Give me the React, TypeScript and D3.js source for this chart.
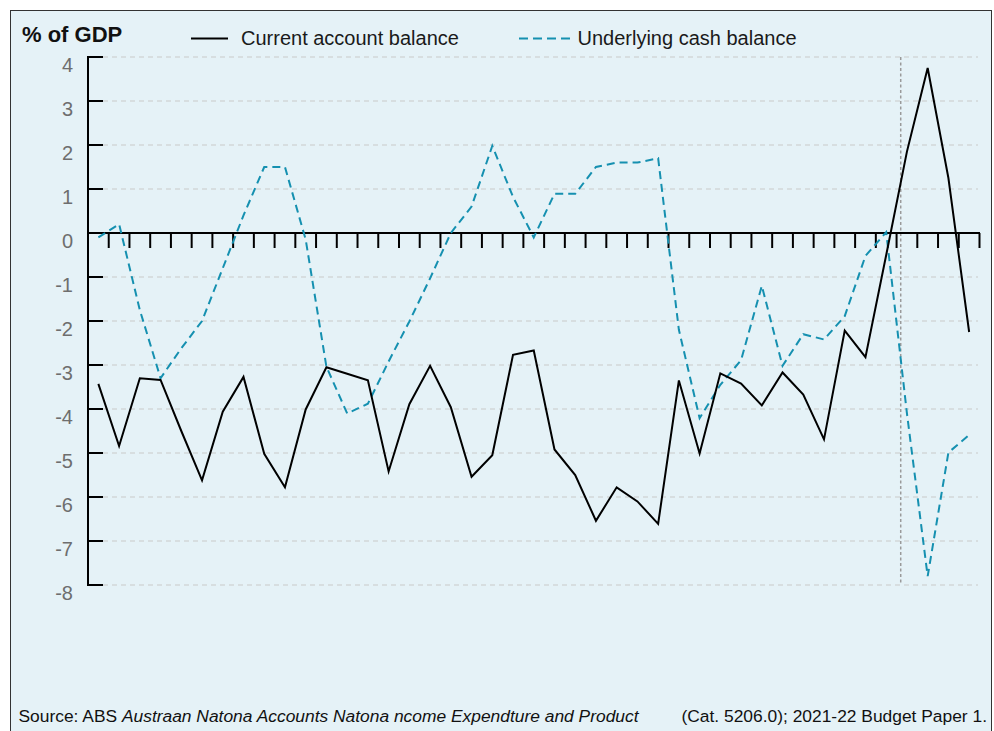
import React from "react";
import * as d3 from "d3";

const years: string[] = [
  "1979-80","1980-81","1981-82","1982-83","1983-84","1984-85","1985-86","1986-87","1987-88","1988-89",
  "1989-90","1990-91","1991-92","1992-93","1993-94","1994-95","1995-96","1996-97","1997-98","1998-99",
  "1999-00","2000-01","2001-02","2002-03","2003-04","2004-05","2005-06","2006-07","2007-08","2008-09",
  "2009-10","2010-11","2011-12","2012-13","2013-14","2014-15","2015-16","2016-17","2017-18","2018-19",
  "2019-20","2020-21","2021-22",
];

const currentAccount: number[] = [
  -3.43, -4.84, -3.3, -3.34, -4.5, -5.62, -4.06, -3.27, -5.02, -5.78,
  -4.01, -3.05, -3.2, -3.35, -5.42, -3.89, -3.02, -3.96, -5.54, -5.05,
  -2.77, -2.67, -4.92, -5.5, -6.54, -5.78, -6.1, -6.61, -3.35, -5.01,
  -3.19, -3.42, -3.92, -3.17, -3.67, -4.69, -2.22, -2.82, -0.5, 1.85,
  3.75, 1.25, -2.25,
];

const underlyingCash: number[] = [
  -0.1, 0.2, -1.75, -3.3, -2.62, -2.0, -0.8, 0.4, 1.5, 1.5,
  -0.15, -3.04, -4.1, -3.88, -2.92, -2.01, -1.03, 0.0, 0.6, 1.98,
  0.82, -0.1, 0.89, 0.89, 1.5, 1.6, 1.6, 1.7, -2.2, -4.21,
  -3.45, -2.89, -1.2, -3.02, -2.3, -2.42, -1.89, -0.52, 0.02, -4.1,
  -7.8, -4.99, -4.59,
];

const yTicks: number[] = [4, 3, 2, 1, 0, -1, -2, -3, -4, -5, -6, -7, -8];
const dividerYear = "2018-19";
const dividerFraction = 0.2;

const seriesNames = ["Current account balance", "Underlying cash balance"];
const titleText = "% of GDP";
const sourcePlain = "Source: ABS ";
const sourceItalic = "Austraan Natona Accounts Natona ncome Expendture and Product";
const sourceEnd = "(Cat. 5206.0); 2021-22 Budget Paper 1.";

const W = 994;
const H = 731;
const FONT = "'Liberation Sans', Arial, Helvetica, sans-serif";
const BLUE = "#1590b0";

export default function App() {
  const x = d3.scaleBand<string>().domain(years).range([88, 979.5]).padding(0);
  const bw = x.bandwidth();
  const cx = (i: number) => (x(years[i]) as number) + bw / 2;
  const y = d3.scaleLinear().domain([-8, 4]).range([585, 57]);

  const line = d3
    .line<number>()
    .x((_, i) => cx(i))
    .y((d) => y(d));

  const y0 = y(0);
  const dividerX = (x(dividerYear) as number) + dividerFraction * bw;

  return (
    <svg
      width={W}
      height={H}
      style={{ position: "absolute", left: 0, top: 0, display: "block" }}
      fontFamily={FONT}
    >
      <rect x={0} y={0} width={W} height={H} fill="#ffffff" />
      <rect x={10.5} y={10.5} width={981} height={740} fill="#e5f2f7" stroke="#333" strokeWidth={1} />

      {/* gridlines */}
      {yTicks.map((t) => (
        <line
          key={"g" + t}
          x1={103}
          x2={978}
          y1={y(t)}
          y2={y(t)}
          stroke="#c9c9c9"
          strokeWidth={1.2}
          strokeDasharray="5,4"
        />
      ))}

      {/* divider */}
      <line
        x1={dividerX}
        x2={dividerX}
        y1={y(4)}
        y2={y(-8)}
        stroke="#9a9a9a"
        strokeWidth={1.5}
        strokeDasharray="3,2.5"
      />

      {/* y axis */}
      <line x1={88} x2={88} y1={y(4) - 1} y2={y(-8) + 1} stroke="#000" strokeWidth={2} />
      {yTicks.map((t) => (
        <g key={"t" + t}>
          <line x1={88} x2={103} y1={y(t)} y2={y(t)} stroke="#000" strokeWidth={2} />
          <text x={73} y={y(t) + 15} textAnchor="end" fontSize={20} fill="#6e6e6e">
            {t}
          </text>
        </g>
      ))}

      {/* x axis */}
      <line x1={88} x2={980} y1={y0} y2={y0} stroke="#000" strokeWidth={2} />
      {years.map((yr) => {
        const tx = (x(yr) as number) + bw;
        return <line key={"xt" + yr} x1={tx} x2={tx} y1={y0} y2={y0 + 15} stroke="#000" strokeWidth={2} />;
      })}

      {/* series */}
      <path d={line(underlyingCash) || ""} fill="none" stroke={BLUE} strokeWidth={2} strokeDasharray="8,5" />
      <path d={line(currentAccount) || ""} fill="none" stroke="#000" strokeWidth={2} strokeLinejoin="miter" />

      {/* title */}
      <text x={22} y={42} fontSize={22} fontWeight="bold" fill="#111">
        {titleText}
      </text>

      {/* legend */}
      <line x1={191} x2={228} y1={38.5} y2={38.5} stroke="#000" strokeWidth={2} />
      <text x={241} y={45} fontSize={20} fill="#1a1a1a">
        {seriesNames[0]}
      </text>
      <line x1={519} x2={571} y1={38.5} y2={38.5} stroke={BLUE} strokeWidth={2} strokeDasharray="9,5" />
      <text x={577.5} y={45} fontSize={20} fill="#1a1a1a">
        {seriesNames[1]}
      </text>

      {/* source */}
      <text x={18.5} y={722} fontSize={17.4} fill="#111">
        {sourcePlain}
        <tspan fontStyle="italic">{sourceItalic}</tspan>
      </text>
      <text x={987} y={722} fontSize={17.4} fill="#111" textAnchor="end">
        {sourceEnd}
      </text>
    </svg>
  );
}
